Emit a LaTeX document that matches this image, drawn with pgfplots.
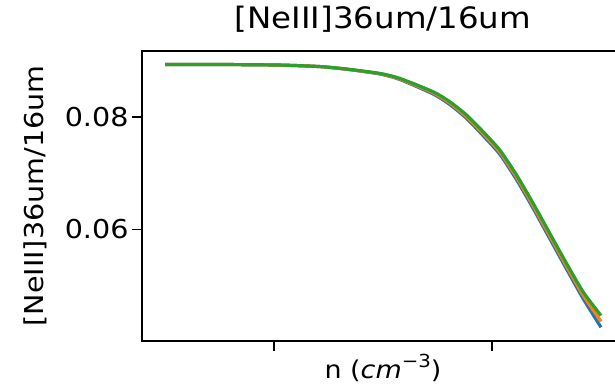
\documentclass[border=0pt]{standalone}
\usepackage{fontspec}
\setmainfont{DejaVu Sans}[FakeStretch=1.1]
\usepackage{pgfplots}
\pgfplotsset{compat=1.18}
\definecolor{tabblue}{HTML}{1F77B4}
\definecolor{taborange}{HTML}{FF7F0E}
\definecolor{tabgreen}{HTML}{2CA02C}
\begin{document}
\begin{tikzpicture}[x=1pt,y=1pt]
\useasboundingbox (0,0) rectangle (615,386);
\begin{axis}[
  at={(142pt,45pt)}, anchor=south west,
  scale only axis, width=482pt, height=290pt,
  xmode=log, xmin=6.15, xmax=162550,
  ymin=0.0401, ymax=0.0918,
  xtick={100,10000}, xticklabels={,,}, minor xtick={},
  ytick={0.06,0.08}, scaled y ticks=false,
  /pgf/number format/assume math mode=true,
  yticklabel style={/pgf/number format/fixed, /pgf/number format/precision=2, font=\fontsize{26}{26}\selectfont},
  tick pos=left, tick align=outside, major tick length=10pt,
  tick style={line width=1.6pt, black},
  axis line style={line width=1.6pt},
  title={[NeIII]36um/16um},
  title style={at={(0.5,1)}, anchor=base, yshift=16pt, font=\fontsize{29.5}{29.5}\selectfont},
  xlabel={n (\textit{cm}\raisebox{0.75ex}{\fontsize{18}{18}\selectfont −3})},
  xlabel style={at={(axis description cs:0.5,0)}, anchor=base, yshift=-37pt, font=\fontsize{24.5}{24.5}\selectfont},
  ylabel={[NeIII]36um/16um},
  ylabel style={at={(axis description cs:-0.204,0.5)}, anchor=base, font=\fontsize{26}{26}\selectfont},
  every axis plot/.append style={line width=3.2pt, no markers, smooth, tension=0.4},
]
\addplot[tabblue] coordinates {
(10,0.08941) (39.4,0.08938) (113.5,0.08929) (264,0.08902) (468,0.08854)
(938,0.08770) (1432,0.08671) (2891,0.08412) (4121,0.08223) (5861,0.07976)
(8318,0.07668) (11830,0.07336) (16870,0.06879) (23930,0.06369) (34040,0.05828)
(48420,0.05288) (68870,0.04760) (100000,0.04254)};
\addplot[taborange] coordinates {
(10,0.08941) (39.4,0.08938) (113.5,0.08929) (264,0.08902) (468,0.08855)
(938,0.08775) (1432,0.08681) (2891,0.08432) (4121,0.08248) (5861,0.08006)
(8318,0.07703) (11830,0.07374) (16870,0.06922) (23930,0.06414) (34040,0.05876)
(48420,0.05338) (68870,0.04820) (100000,0.04359)};
\addplot[tabgreen] coordinates {
(10,0.08941) (39.4,0.08938) (113.5,0.08929) (264,0.08902) (468,0.08857)
(938,0.08780) (1432,0.08691) (2891,0.08452) (4121,0.08273) (5861,0.08036)
(8318,0.07738) (11830,0.07411) (16870,0.06964) (23930,0.06459) (34040,0.05923)
(48420,0.05388) (68870,0.04880) (100000,0.04464)};
\end{axis}
\end{tikzpicture}
\end{document}
